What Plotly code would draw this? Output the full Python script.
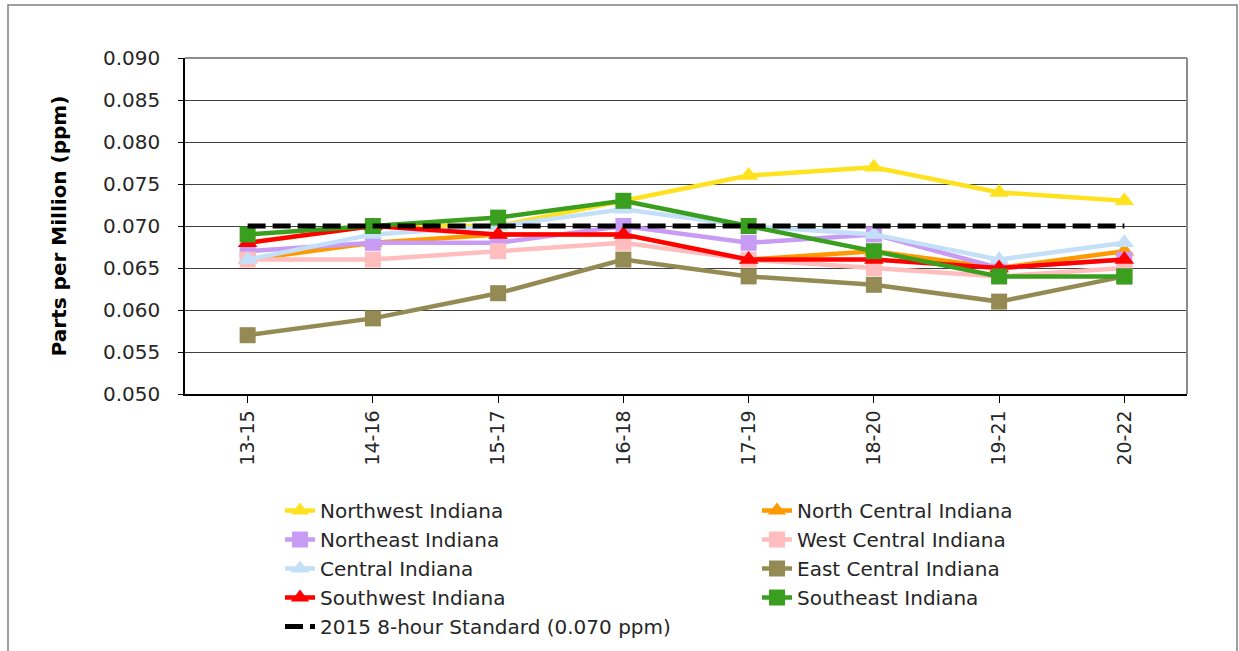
import plotly.graph_objects as go

periods = ["13-15", "14-16", "15-17", "16-18", "17-19", "18-20", "19-21", "20-22"]

northwest = [0.068, 0.070, 0.070, 0.073, 0.076, 0.077, 0.074, 0.073]
north_central = [0.066, 0.068, 0.069, 0.069, 0.066, 0.067, 0.065, 0.067]
northeast = [0.067, 0.068, 0.068, 0.070, 0.068, 0.069, 0.065, 0.066]
west_central = [0.066, 0.066, 0.067, 0.068, 0.066, 0.065, 0.064, 0.065]
central = [0.066, 0.069, 0.070, 0.072, 0.070, 0.069, 0.066, 0.068]
east_central = [0.057, 0.059, 0.062, 0.066, 0.064, 0.063, 0.061, 0.064]
southwest = [0.068, 0.070, 0.069, 0.069, 0.066, 0.066, 0.065, 0.066]
southeast = [0.069, 0.070, 0.071, 0.073, 0.070, 0.067, 0.064, 0.064]
standard = [0.070, 0.070, 0.070, 0.070, 0.070, 0.070, 0.070, 0.070]

series = [
    ("Northwest Indiana", northwest, "#FFE21F", "triangle-up"),
    ("North Central Indiana", north_central, "#FF9900", "triangle-up"),
    ("Northeast Indiana", northeast, "#C89BF5", "square"),
    ("West Central Indiana", west_central, "#FFBDBD", "square"),
    ("Central Indiana", central, "#C3E0F8", "triangle-up"),
    ("East Central Indiana", east_central, "#948A54", "square"),
    ("Southwest Indiana", southwest, "#FF0000", "triangle-up"),
    ("Southeast Indiana", southeast, "#3A9E1E", "square"),
]

FONT = "DejaVu Sans"
fig = go.Figure()
for name, vals, color, sym in series:
    fig.add_trace(go.Scatter(
        x=periods, y=vals, name=name, mode="lines+markers",
        line=dict(color=color, width=4.5),
        marker=dict(symbol=sym, size=16 if sym == "square" else 17, color=color),
    ))

fig.add_trace(go.Scatter(
    x=periods, y=standard, name="2015 8-hour Standard (0.070 ppm)", mode="lines",
    line=dict(color="black", width=5, dash="18px,7px"),
))

W, H = 1239, 651
L, R, T, B = 185, 52, 58, 257
pw, ph = W - L - R, H - T - B

def px_x(p):
    return (p - L) / pw

def px_y(p):
    return (H - B - p) / ph

shapes = [
    dict(type="line", xref="paper", yref="paper", x0=0, x1=1, y0=1, y1=1,
         line=dict(color="#8C8C8C", width=2)),
    dict(type="line", xref="paper", yref="paper", x0=1, x1=1, y0=0, y1=1,
         line=dict(color="#8C8C8C", width=2)),
    dict(type="rect", xref="paper", yref="paper", x0=px_x(8), x1=px_x(1237),
         y0=px_y(680), y1=px_y(5), line=dict(color="#7F7F7F", width=1.5),
         layer="below"),
]

fig.update_layout(
    width=W, height=H,
    margin=dict(l=L, r=R, t=T, b=B),
    paper_bgcolor="white", plot_bgcolor="white",
    font=dict(family=FONT, color="#262626", size=20),
    showlegend=True,
    legend=dict(
        orientation="h", xref="container", yref="container",
        x=280 / W, y=1 - 491 / H, xanchor="left", yanchor="top",
        entrywidth=432, entrywidthmode="pixels",
        font=dict(family=FONT, size=20, color="#262626"),
        bgcolor="rgba(0,0,0,0)", traceorder="normal",
    ),
    shapes=shapes,
    xaxis=dict(
        type="category", range=[-0.5, 7.5],
        showline=True, linecolor="black", linewidth=1.5,
        ticks="outside", ticklen=7, tickcolor="black", tickwidth=1,
        tickangle=-90, tickfont=dict(family=FONT, size=19, color="#262626"),
        showgrid=False, zeroline=False,
    ),
    yaxis=dict(
        range=[0.050, 0.090], dtick=0.005, tick0=0.050, tickformat=".3f",
        showline=True, linecolor="black", linewidth=1.5,
        ticks="outside", ticklen=5, tickcolor="black",
        showgrid=True, gridcolor="#404040", gridwidth=1, zeroline=False,
        tickfont=dict(family=FONT, size=20, color="#262626"),
        ticklabelstandoff=14,
        title=dict(text="<b>Parts per Million (ppm)</b>", standoff=31,
                   font=dict(family=FONT, size=20, color="black")),
    ),
)

fig.write_html("out.html", config={"displayModeBar": False},
               post_script="document.body.style.margin='0';")
